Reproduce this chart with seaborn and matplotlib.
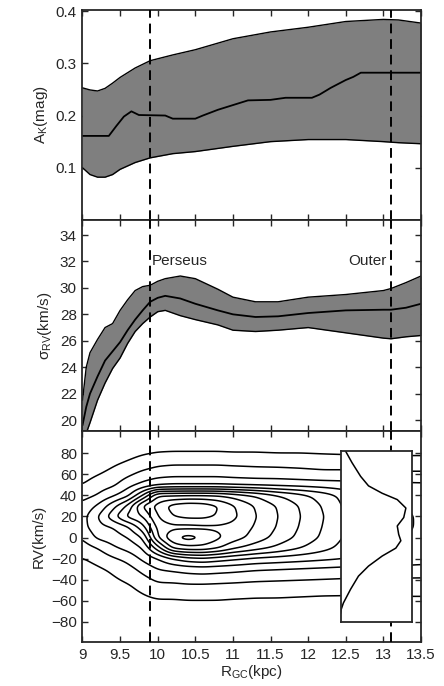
import numpy as np
import pandas as pd
import seaborn as sns
import matplotlib
matplotlib.use("Agg")
import matplotlib.pyplot as plt

# ---- panel 1: A_K vs R_GC (band + running median) ----
r_ak = [9.0, 9.1, 9.2, 9.3, 9.4, 9.5, 9.7, 9.9, 10.2, 10.5, 11.0, 11.5, 12.0, 12.5, 13.0, 13.2, 13.5]
ak_hi = [0.253, 0.249, 0.247, 0.252, 0.262, 0.273, 0.291, 0.305, 0.316, 0.326, 0.347, 0.360, 0.369, 0.380, 0.384, 0.383, 0.377]
ak_lo = [0.100, 0.087, 0.082, 0.082, 0.087, 0.097, 0.110, 0.119, 0.127, 0.131, 0.141, 0.150, 0.154, 0.154, 0.150, 0.148, 0.146]
r_ak_med = [9.0, 9.35, 9.45, 9.55, 9.65, 9.75, 10.1, 10.2, 10.5, 10.6, 10.8, 11.0, 11.2, 11.5, 11.7,
            12.05, 12.15, 12.3, 12.5, 12.6, 12.7, 13.5]
ak_med = [0.161, 0.161, 0.180, 0.198, 0.208, 0.201, 0.200, 0.194, 0.194, 0.200, 0.211, 0.220, 0.229, 0.230, 0.234,
          0.234, 0.240, 0.253, 0.268, 0.274, 0.282, 0.282]

# ---- panel 2: sigma_RV vs R_GC ----
r_sig = [9.0, 9.05, 9.1, 9.2, 9.3, 9.4, 9.5, 9.6, 9.7, 9.8, 9.9, 10.0, 10.1, 10.3, 10.5, 10.8,
         11.0, 11.3, 11.6, 12.0, 12.5, 13.0, 13.1, 13.3, 13.5]
sig_med = [19.6, 21.0, 22.0, 23.3, 24.5, 25.2, 25.9, 26.8, 27.6, 28.3, 28.95, 29.25, 29.4, 29.2, 28.8, 28.3,
           28.0, 27.8, 27.85, 28.1, 28.3, 28.35, 28.35, 28.5, 28.8]
sig_hi = [21.5, 24.0, 25.1, 26.1, 27.0, 27.3, 28.3, 29.1, 29.8, 30.1, 30.2, 30.5, 30.7, 30.9, 30.7, 29.9,
          29.3, 28.95, 28.95, 29.3, 29.5, 29.8, 29.95, 30.4, 30.9]
sig_lo = [18.5, 19.0, 19.8, 21.5, 22.8, 23.9, 24.7, 25.8, 26.7, 27.3, 27.8, 28.2, 28.3, 27.9, 27.6, 27.2,
          26.8, 26.7, 26.8, 27.0, 26.6, 26.2, 26.15, 26.3, 26.4]

# ---- panel 3: RV density in (R_GC, RV), rows = R nodes, cols = RV nodes ----
kde_r = [9.0, 9.2, 9.4, 9.6, 9.8, 10.0, 10.2, 10.4, 10.6, 10.8, 11.0, 11.3, 11.6, 11.9, 12.2, 12.5, 13.0, 13.5]
kde_rv = [-100, -80, -60, -45, -30, -20, -10, 0, 10, 20, 30, 40, 50, 60, 70, 80, 90, 100]
kde_grid = [
    [0, 0, 0.1, 0.3, 0.6, 0.95, 1.5, 2.05, 2.6, 2.6, 2.3, 1.6, 1.0, 0.6, 0.3, 0.1, 0, 0],
    [0, 0, 0.2, 0.5, 0.85, 1.3, 2.0, 3.2, 3.7, 3.95, 3.1, 2.05, 1.5, 0.95, 0.5, 0.2, 0, 0],
    [0, 0.05, 0.35, 0.7, 1.15, 1.85, 2.8, 3.5, 4.0, 5.6, 4.6, 2.8, 1.8, 1.3, 0.85, 0.45, 0.1, 0],
    [0, 0.1, 0.55, 0.93, 1.6, 2.3, 3.3, 4.0, 4.85, 7.3, 6.2, 3.7, 2.6, 1.8, 1.15, 0.65, 0.25, 0],
    [0, 0.2, 0.75, 1.3, 2.3, 3.2, 4.0, 5.0, 6.6, 8.0, 9.2, 6.0, 3.3, 2.3, 1.5, 0.9, 0.4, 0.05],
    [0, 0.3, 0.9, 1.8, 3.0, 4.0, 6.5, 9.0, 9.4, 10.0, 10.4, 9.0, 3.8, 2.6, 1.8, 1.05, 0.5, 0.1],
    [0, 0.35, 0.9, 1.8, 3.2, 5.0, 9.2, 10.9, 9.7, 11.0, 11.4, 9.0, 4.0, 2.7, 1.9, 1.1, 0.5, 0.1],
    [0, 0.35, 0.95, 1.9, 3.4, 5.6, 9.6, 11.5, 9.6, 11.3, 11.7, 9.1, 4.0, 2.7, 1.9, 1.1, 0.5, 0.1],
    [0, 0.35, 0.95, 1.9, 3.5, 5.8, 9.6, 11.0, 9.7, 11.3, 11.6, 9.1, 4.0, 2.7, 1.9, 1.1, 0.5, 0.1],
    [0, 0.35, 0.95, 1.85, 3.4, 5.5, 9.1, 10.2, 9.8, 10.9, 11.05, 9.0, 4.0, 2.7, 1.9, 1.1, 0.5, 0.1],
    [0, 0.35, 0.9, 1.8, 3.3, 5.2, 8.2, 9.5, 9.7, 10.25, 10.1, 8.6, 3.9, 2.6, 1.85, 1.05, 0.5, 0.1],
    [0, 0.3, 0.85, 1.7, 3.1, 4.8, 7.4, 8.6, 8.9, 9.05, 8.9, 7.9, 3.8, 2.5, 1.8, 1.05, 0.5, 0.1],
    [0, 0.3, 0.85, 1.65, 3.0, 4.6, 6.7, 7.6, 7.9, 8.0, 7.9, 7.0, 3.7, 2.5, 1.75, 1.0, 0.45, 0.1],
    [0, 0.3, 0.8, 1.6, 2.9, 4.4, 6.0, 6.7, 6.9, 7.0, 6.9, 6.3, 3.6, 2.4, 1.7, 1.0, 0.45, 0.1],
    [0, 0.25, 0.75, 1.55, 2.8, 4.2, 5.3, 5.8, 5.95, 6.05, 5.9, 5.5, 3.5, 2.3, 1.6, 0.95, 0.4, 0.1],
    [0, 0.25, 0.75, 1.5, 2.7, 4.0, 4.6, 4.85, 4.9, 4.9, 4.8, 4.6, 3.4, 2.3, 1.6, 0.9, 0.4, 0.1],
    [0, 0.25, 0.8, 1.5, 2.7, 3.8, 4.2, 4.35, 4.4, 4.4, 4.3, 4.1, 3.3, 2.2, 1.5, 0.85, 0.35, 0.1],
    [0, 0.25, 0.8, 1.5, 2.6, 3.5, 3.75, 3.8, 3.9, 3.9, 3.8, 3.6, 3.2, 2.2, 1.5, 0.85, 0.35, 0.1],
]
kde_levels = np.arange(1, 12)

# inset: RV distribution of the outer region
inset_rv = [82, 71, 58, 49, 42, 36, 28, 19, 11, 3, -3, -10, -17.5, -27, -36.5, -49, -62, -68, -72]
inset_dens = [0.07, 0.16, 0.28, 0.39, 0.58, 0.79, 0.91, 0.88, 0.79, 0.81, 0.84, 0.77, 0.58, 0.39, 0.25, 0.14, 0.04, 0.01, 0.0]

arm_r = [9.9, 13.1]
arm_names = ["Perseus", "Outer"]

sns.set_style("ticks")
plt.rcParams["font.family"] = ["Liberation Sans", "DejaVu Sans"]
plt.rcParams["mathtext.fontset"] = "custom"
plt.rcParams["mathtext.rm"] = "Liberation Sans"
plt.rcParams["mathtext.it"] = "Liberation Sans"
plt.rcParams["mathtext.default"] = "rm"
plt.rcParams["font.size"] = 11

fig = plt.figure(figsize=(4.44, 6.86), dpi=100)
L, W = 0.1858, 0.7624
ax1 = fig.add_axes([L, 0.6793, W, 0.3061])
ax2 = fig.add_axes([L, 0.3717, W, 0.3076])
ax3 = fig.add_axes([L, 0.0641, W, 0.3076])

dash = (0, (5, 3))
for ax in (ax1, ax2, ax3):
    ax.set_xlim(9, 13.5)
    ax.set_xticks(np.arange(9, 13.51, 0.5))
    ax.tick_params(direction="in", top=True, right=True, length=4, width=1, labelsize=11, pad=4)
    for s in ax.spines.values():
        s.set_linewidth(1.3)
    for xr in arm_r:
        ax.axvline(xr, color="k", ls=dash, lw=1.4, zorder=4)

# panel 1
ax1.fill_between(r_ak, ak_lo, ak_hi, color="#7f7f7f", lw=0)
sns.lineplot(x=r_ak, y=ak_hi, ax=ax1, color="k", lw=1)
sns.lineplot(x=r_ak, y=ak_lo, ax=ax1, color="k", lw=1)
sns.lineplot(x=r_ak_med, y=ak_med, ax=ax1, color="k", lw=1.3)
ax1.set_ylim(0, 0.402)
ax1.set_yticks([0.1, 0.2, 0.3, 0.4])
ax1.set_yticklabels(["0.1", "0.2", "0.3", "0.4"])
ax1.set_ylabel("A$_K$(mag)", fontsize=11)
ax1.set_xticklabels([])

# panel 2
ax2.fill_between(r_sig, sig_lo, sig_hi, color="#7f7f7f", lw=0)
sns.lineplot(x=r_sig, y=sig_hi, ax=ax2, color="k", lw=1)
sns.lineplot(x=r_sig, y=sig_lo, ax=ax2, color="k", lw=1)
sns.lineplot(x=r_sig, y=sig_med, ax=ax2, color="k", lw=1.3)
ax2.set_ylim(19.17, 35.14)
ax2.set_yticks(np.arange(20, 35, 2))
ax2.set_ylabel("σ$_{RV}$(km/s)", fontsize=11)
ax2.set_xticklabels([])
ax2.text(arm_r[0] + 0.02, 32, arm_names[0], ha="left", va="center", fontsize=11)
ax2.text(arm_r[1] - 0.06, 32, arm_names[1], ha="right", va="center", fontsize=11)

# panel 3: contours from the density grid (bilinear resample + light smoothing)
grid = np.array(kde_grid, dtype=float)
rf = np.linspace(9, 13.5, 451)
vf = np.linspace(-100, 100, 401)
tmp = np.array([np.interp(vf, kde_rv, row) for row in grid])
fine = np.array([np.interp(rf, kde_r, tmp[:, j]) for j in range(len(vf))])


def blur(a, sigma, axis):
    n = int(3 * sigma) + 1
    k = np.exp(-0.5 * (np.arange(-n, n + 1) / sigma) ** 2)
    k /= k.sum()
    pad = [(0, 0), (0, 0)]
    pad[axis] = (n, n)
    ap = np.pad(a, pad, mode="edge")
    return np.apply_along_axis(lambda m: np.convolve(m, k, mode="valid"), axis, ap)


fine = blur(fine, 5, 1)
fine = blur(fine, 4, 0)
ax3.contour(rf, vf, fine, levels=kde_levels, colors="k", linewidths=1.1)
ax3.set_ylim(-99, 101)
ax3.set_yticks(np.arange(-80, 81, 20))
ax3.set_ylabel("RV(km/s)", fontsize=11)
ax3.set_xticklabels(["9", "9.5", "10", "10.5", "11", "11.5", "12", "12.5", "13", "13.5"])
ax3.set_xlabel("R$_{GC}$(kpc)", fontsize=11, labelpad=1)

axin = ax3.inset_axes([12.43, -80, 0.955, 162], transform=ax3.transData, zorder=6)
axin.set_facecolor("white")
sns.lineplot(x=inset_dens, y=inset_rv, ax=axin, color="k", lw=1.1, sort=False, orient="y")
axin.set_xlim(0, 1)
axin.set_ylim(-80, 82)
axin.set_xticks([])
axin.set_yticks([])
axin.set_xlabel("")
axin.set_ylabel("")
for s in axin.spines.values():
    s.set_linewidth(1.3)

fig.savefig("out.png", dpi=100)
